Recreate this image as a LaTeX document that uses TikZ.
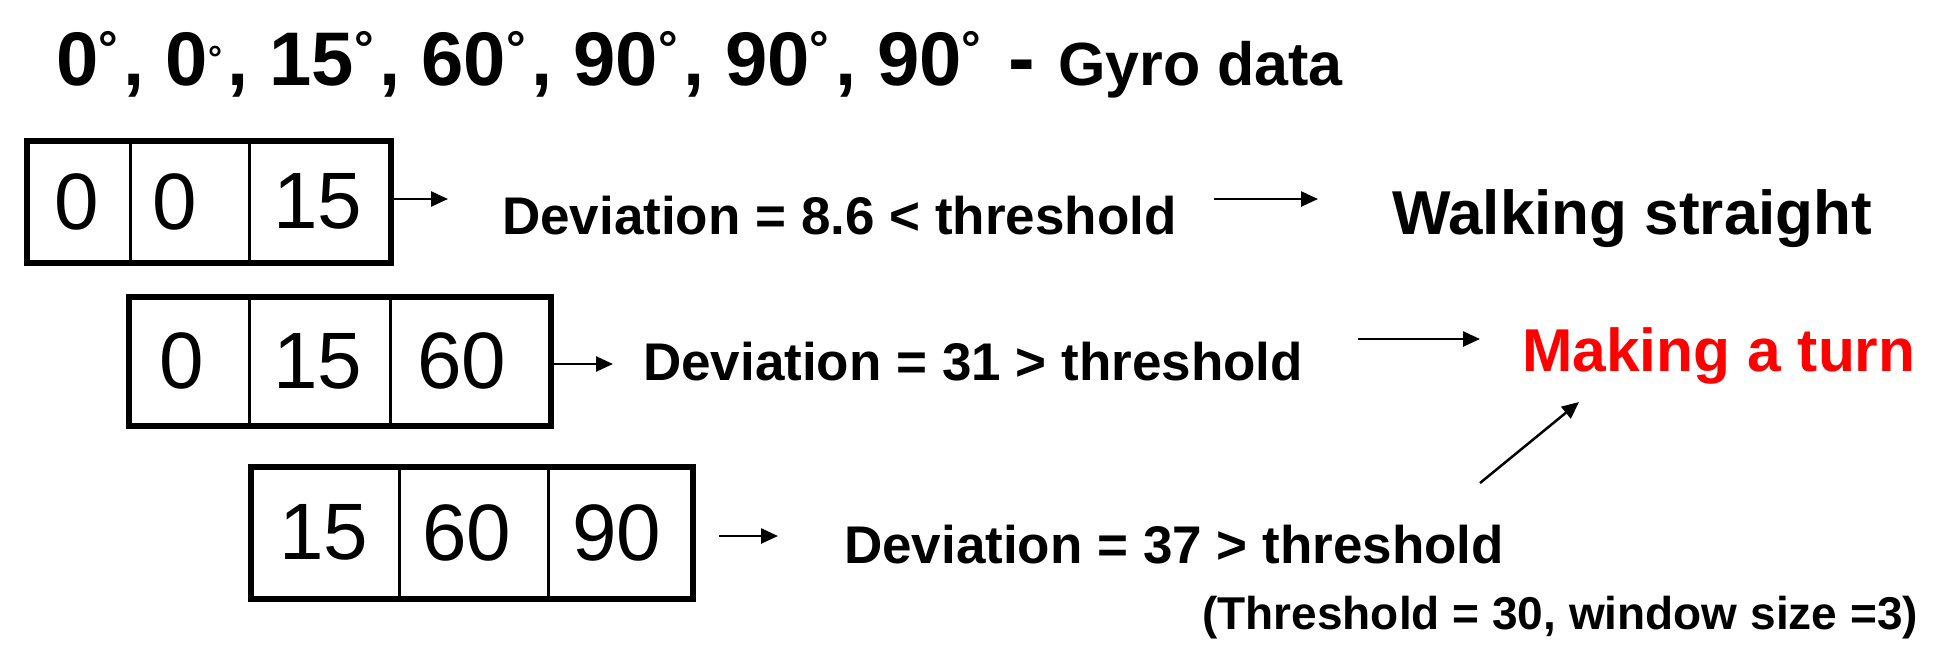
\documentclass[tikz,border=0pt]{standalone}
\usepackage{fontspec}
\setmainfont{Liberation Sans}
\usetikzlibrary{arrows.meta,fit}
\newcommand\dgb{\raisebox{19.5pt}{\fontsize{49}{49}\selectfont °}\kern5.5pt}
\newcommand\dgsm{\raisebox{14.5pt}{\fontsize{35}{35}\selectfont °}\kern5.5pt}
\begin{document}
\begin{tikzpicture}[x=1pt,y=-1pt,
  cell/.style={draw, line width=3pt, inner sep=0pt},
  num/.style={inner sep=0pt, font=\fontsize{80}{80}\selectfont},
  outerbox/.style={draw, line width=6pt, inner sep=0pt},
  txt/.style={inner sep=0pt, anchor=base west, font=\bfseries\fontsize{53}{60}\selectfont},
  res/.style={inner sep=0pt, anchor=base west, font=\bfseries\fontsize{62}{70}\selectfont},
  arr/.style={line width=2.5pt, -{Triangle[length=17pt,width=15pt]}}
]
\useasboundingbox (0,0) rectangle (1953,659);
% title
\node[inner sep=0pt, anchor=base west, font=\bfseries\fontsize{76}{80}\selectfont] (title) at (56,85)
  {0\dgb, 0\dgsm, 15\dgb, 60\dgb, 90\dgb, 90\dgb, 90\dgb};
\node[inner sep=0pt, anchor=base west, font=\bfseries\fontsize{80}{80}\selectfont] (dash) at (1008,85) {-};
\node[inner sep=0pt, anchor=base west, font=\bfseries\fontsize{61}{66}\selectfont] (gyro) at (1058,85) {Gyro data};
% box 1
\node[cell, minimum width=102, minimum height=119] (c11) at (79,201.5) {};
\node[cell, minimum width=119, minimum height=119] (c12) at (189.5,201.5) {};
\node[cell, minimum width=140, minimum height=119] (c13) at (319,201.5) {};
\node[outerbox, fit=(c11)(c13)] (b1) {};
\node[num] (n11) at (77,201.5) {0};
\node[num] (n12) at (175,201.5) {0};
\node[num] (n13) at (318,201.5) {15};
% box 2
\node[cell, minimum width=119, minimum height=126] (c21) at (189.5,361) {};
\node[cell, minimum width=141, minimum height=126] (c22) at (319.5,361) {};
\node[cell, minimum width=159, minimum height=126] (c23) at (469.5,361) {};
\node[outerbox, fit=(c21)(c23)] (b2) {};
\node[num] (n21) at (182,361) {0};
\node[num] (n22) at (318,361) {15};
\node[num] (n23) at (462,361) {60};
% box 3
\node[cell, minimum width=147, minimum height=129] (c31) at (325.5,532.5) {};
\node[cell, minimum width=149, minimum height=129] (c32) at (473.5,532.5) {};
\node[cell, minimum width=143, minimum height=129] (c33) at (619.5,532.5) {};
\node[outerbox, fit=(c31)(c33)] (b3) {};
\node[num] (n31) at (324,532.5) {15};
\node[num] (n32) at (467,532.5) {60};
\node[num] (n33) at (617,532.5) {90};
% texts
\node[txt] (d1) at (502,234) {Deviation = 8.6 < threshold};
\node[txt] (d2) at (643,380) {Deviation = 31 > threshold};
\node[txt] (d3) at (844,563) {Deviation = 37 > threshold};
\node[res] (walk) at (1392,234) {Walking straight};
\node[res, font=\bfseries\fontsize{60.5}{70}\selectfont, text={rgb,255:red,255;green,0;blue,0}] (turn) at (1522,371) {Making a turn};
\node[inner sep=0pt, anchor=base west, font=\bfseries\fontsize{46}{52}\selectfont] (thr) at (1202,629) {(Threshold = 30, window size =3)};
% arrow coordinates
\coordinate (a1e) at (448,199);
\coordinate (a2s) at (1214,199);
\coordinate (a2e) at (1318,199);
\coordinate (a3e) at (613,364);
\coordinate (a4s) at (1358,339);
\coordinate (a4e) at (1480,339);
\coordinate (a5s) at (719,536);
\coordinate (a5e) at (778,536);
\coordinate (a6s) at (1480,483);
\coordinate (a6e) at (1579,402);
\draw[arr] (b1.east |- a1e) -- (a1e);
\draw[arr] (a2s) -- (a2e);
\draw[arr] (b2.east |- a3e) -- (a3e);
\draw[arr] (a4s) -- (a4e);
\draw[arr] (a5s) -- (a5e);
\draw[arr] (a6s) -- (a6e);
\end{tikzpicture}
\end{document}
